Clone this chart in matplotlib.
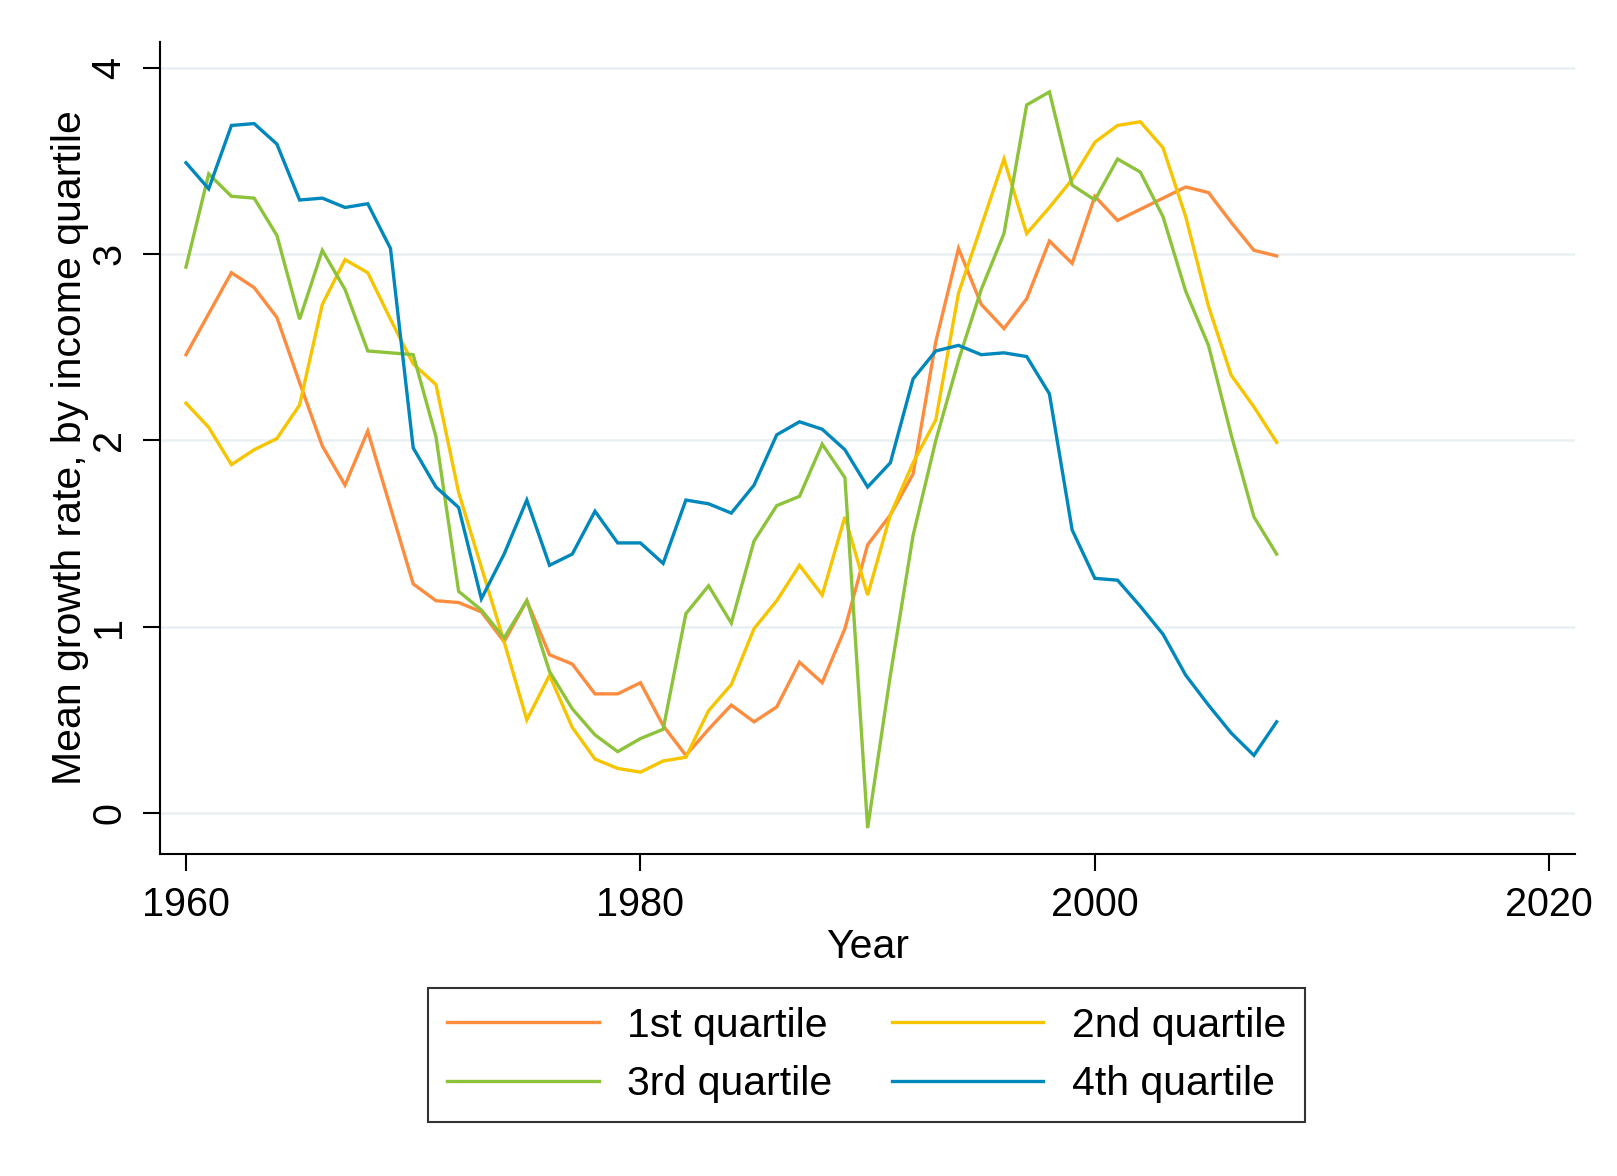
import matplotlib
matplotlib.use("Agg")
import matplotlib.pyplot as plt

plt.rcParams['font.family'] = ['Liberation Sans', 'DejaVu Sans']

years = list(range(1960, 2009))

q1 = [2.46, 2.68, 2.90, 2.82, 2.66, 2.31, 1.97, 1.76, 2.05, 1.64,
      1.23, 1.14, 1.13, 1.08, 0.92, 1.14, 0.85, 0.80, 0.64, 0.64,
      0.70, 0.47, 0.31, 0.45, 0.58, 0.49, 0.57, 0.81, 0.70, 0.99,
      1.44, 1.60, 1.82, 2.53, 3.03, 2.73, 2.60, 2.76, 3.07, 2.95,
      3.31, 3.18, 3.24, 3.30, 3.36, 3.33, 3.17, 3.02, 2.99]
q2 = [2.20, 2.07, 1.87, 1.95, 2.01, 2.19, 2.73, 2.97, 2.90, 2.65,
      2.41, 2.30, 1.72, 1.32, 0.92, 0.50, 0.74, 0.46, 0.29, 0.24,
      0.22, 0.28, 0.30, 0.55, 0.69, 0.99, 1.14, 1.33, 1.17, 1.59,
      1.17, 1.60, 1.88, 2.11, 2.79, 3.15, 3.51, 3.11, 3.25, 3.40,
      3.60, 3.69, 3.71, 3.57, 3.20, 2.72, 2.35, 2.18, 1.99]
q3 = [2.93, 3.43, 3.31, 3.30, 3.10, 2.65, 3.02, 2.81, 2.48, 2.47,
      2.46, 2.02, 1.19, 1.09, 0.94, 1.14, 0.76, 0.56, 0.42, 0.33,
      0.40, 0.45, 1.07, 1.22, 1.02, 1.46, 1.65, 1.70, 1.98, 1.80,
      -0.08, 0.74, 1.49, 2.00, 2.43, 2.81, 3.11, 3.80, 3.87, 3.37,
      3.29, 3.51, 3.44, 3.20, 2.80, 2.51, 2.03, 1.59, 1.39]
q4 = [3.49, 3.35, 3.69, 3.70, 3.59, 3.29, 3.30, 3.25, 3.27, 3.03,
      1.96, 1.75, 1.64, 1.15, 1.39, 1.68, 1.33, 1.39, 1.62, 1.45,
      1.45, 1.34, 1.68, 1.66, 1.61, 1.76, 2.03, 2.10, 2.06, 1.95,
      1.75, 1.88, 2.33, 2.48, 2.51, 2.46, 2.47, 2.45, 2.25, 1.52,
      1.26, 1.25, 1.11, 0.96, 0.74, 0.58, 0.43, 0.31, 0.49]

labels = ['1st quartile', '2nd quartile', '3rd quartile', '4th quartile']
colors = ['#fd8c3e', '#f7c400', '#8dc33a', '#0088bc']

fig = plt.figure(figsize=(16.17, 11.76), dpi=100)
ax = fig.add_axes([0.099, 0.274, 0.875, 0.690])

lines = []
for ys, lab, c in zip([q1, q2, q3, q4], labels, colors):
    ln, = ax.plot(years, ys, color=c, lw=2.4, label=lab, solid_joinstyle='miter')
    lines.append(ln)

ax.set_xlim(1958.86, 2021.13)
ax.set_ylim(-0.218, 4.136)
ax.set_xticks([1960, 1980, 2000, 2020])
ax.set_yticks([0, 1, 2, 3, 4])
ax.grid(axis='y', color='#e9f0f2', lw=1.8)
ax.set_axisbelow(True)

for s in ['top', 'right']:
    ax.spines[s].set_visible(False)
for s in ['left', 'bottom']:
    ax.spines[s].set_linewidth(1.5)

ax.tick_params(axis='both', labelsize=28.5, length=12, width=1.5, pad=11)
for t in ax.get_yticklabels():
    t.set_rotation(90)
    t.set_va('center')

ax.set_xlabel('Year', fontsize=29.5, labelpad=3)
ax.set_ylabel('Mean growth rate, by income quartile', fontsize=29.5, labelpad=1)

# row-wise order like the original: 1st 2nd / 3rd 4th
order = [0, 2, 1, 3]
leg = fig.legend([lines[i] for i in order], [labels[i] for i in order],
                 loc='center', bbox_to_anchor=(0.536, 0.103), ncol=2,
                 fontsize=29.5, frameon=True, fancybox=False,
                 edgecolor='black', handlelength=3.7, handletextpad=0.7,
                 columnspacing=1.45, labelspacing=0.5, borderpad=0.45)
leg.get_frame().set_linewidth(1.5)
for l in leg.get_lines():
    l.set_linewidth(2.4)

fig.savefig('out.png', dpi=100)
